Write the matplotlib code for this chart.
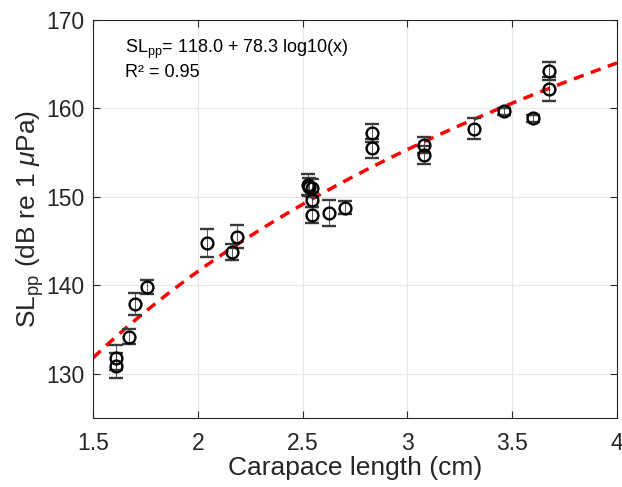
import numpy as np
import matplotlib.pyplot as plt

plt.rcParams['font.family'] = ['Liberation Sans', 'DejaVu Sans']
plt.rcParams['mathtext.fontset'] = 'custom'
plt.rcParams['mathtext.it'] = 'Liberation Sans:italic'
plt.rcParams['mathtext.rm'] = 'Liberation Sans'

# carapace length (cm), SLpp (dB re 1 uPa), error (dB)
length = [1.61, 1.61, 1.67, 1.70, 1.76, 2.045, 2.165, 2.186,
          2.527, 2.532, 2.545, 2.546, 2.546, 2.624, 2.70,
          2.83, 2.83, 3.08, 3.08, 3.318, 3.462, 3.601, 3.676, 3.676]
slpp = [131.8, 130.9, 134.2, 137.9, 139.8, 144.8, 143.8, 145.5,
        151.4, 151.1, 151.0, 149.7, 148.0, 148.2, 148.8,
        157.2, 155.5, 155.9, 154.7, 157.7, 159.7, 158.9, 164.2, 162.2]
err = [1.4, 1.4, 0.85, 1.2, 0.75, 1.55, 0.9, 1.3,
       1.2, 1.0, 1.0, 0.8, 0.9, 1.45, 0.75,
       1.0, 1.1, 0.9, 1.0, 1.2, 0.4, 0.4, 1.0, 1.4]

fit_a = 118.0
fit_b = 78.3

dark = '#262626'

fig = plt.figure(figsize=(6.22, 4.87), dpi=100)
ax = fig.add_axes([0.1495, 0.1417, 0.8425, 0.8172])

xf = np.linspace(1.5, 4, 200)
ax.plot(xf, fit_a + fit_b * np.log10(xf), '--', color='#ff0000', lw=2.5,
        dashes=(3, 2.2), zorder=2)
ax.errorbar(length, slpp, yerr=err, fmt='o', mfc='none', mec='k', mew=1.7,
            markersize=8.5, ecolor='#3a3a3a', elinewidth=0.6, capsize=5,
            capthick=0.6, zorder=3)

ax.set_xlim(1.5, 4)
ax.set_ylim(125, 170)
ax.set_xticks([1.5, 2, 2.5, 3, 3.5, 4])
ax.set_xticklabels(['1.5', '2', '2.5', '3', '3.5', '4'])
ax.set_yticks([130, 140, 150, 160, 170])
ax.grid(True, color='#e6e6e6', lw=0.8)
ax.set_axisbelow(True)
for s in ax.spines.values():
    s.set_color(dark)
    s.set_linewidth(0.8)
ax.tick_params(direction='in', top=True, right=True, length=5, width=0.8,
               colors=dark, labelsize=16.5)
ax.tick_params(axis='x', pad=10)
ax.tick_params(axis='y', pad=6)

ax.set_xlabel('Carapace length (cm)', fontsize=19, color=dark, labelpad=1)
ax.set_ylabel(r'SL$_{\rm pp}$ (dB re 1 $\mu$Pa)', fontsize=19, color=dark, labelpad=0)

ax.text(0.062, 0.925, r'SL$_{\rm pp}$= 118.0 + 78.3 log10(x)', transform=ax.transAxes,
        fontsize=13, color='k', va='center')
ax.text(0.062, 0.869, 'R² = 0.95', transform=ax.transAxes,
        fontsize=13, color='k', va='center')

fig.savefig('out.png', dpi=100)
